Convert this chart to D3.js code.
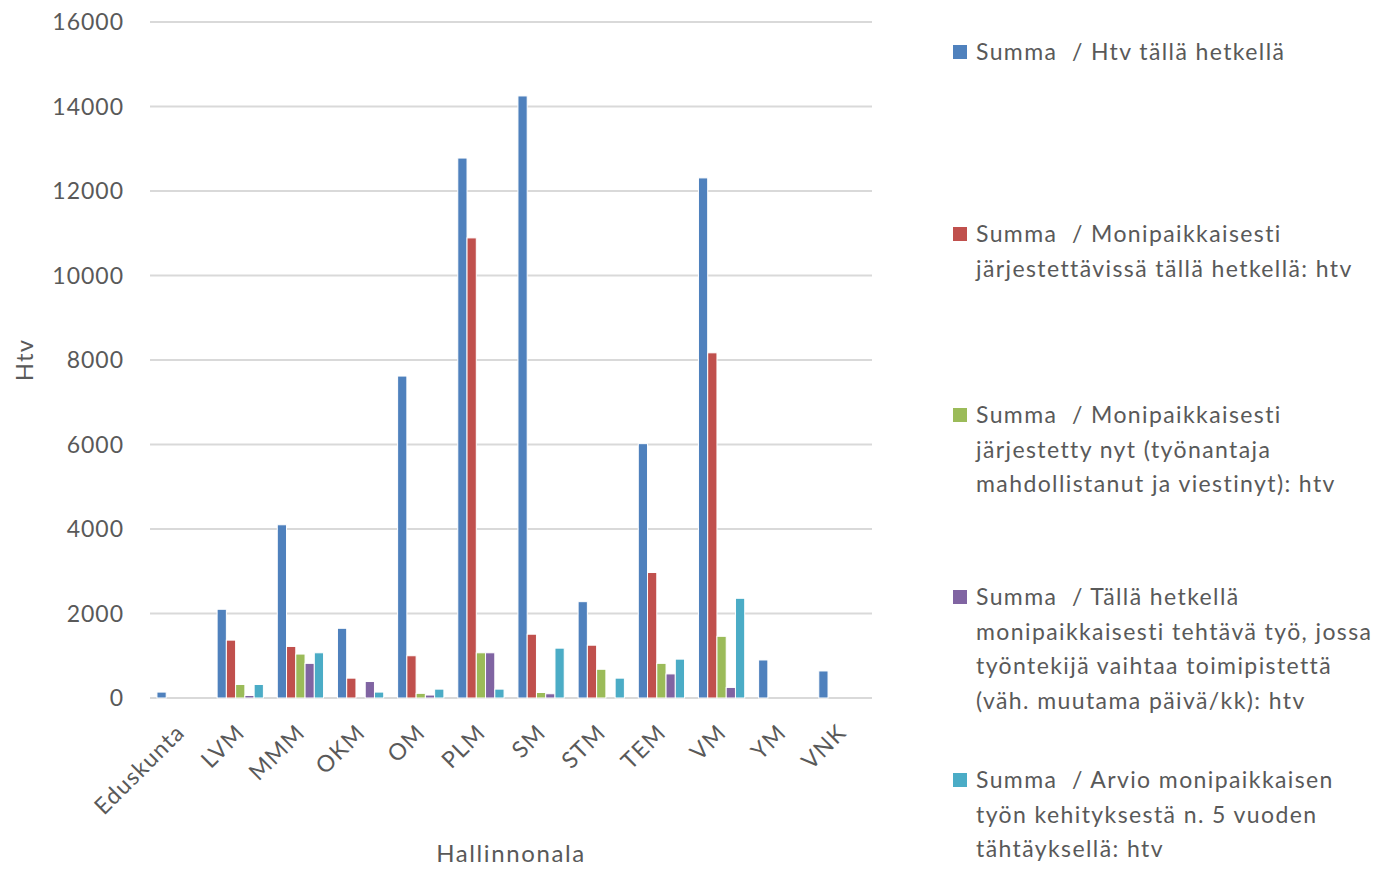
<!DOCTYPE html>
<html>
<head>
<meta charset="utf-8">
<script src="https://cdn.jsdelivr.net/npm/d3@7"></script>
<style>
  body { margin: 0; background: #fff; }
  svg text { font-family: Lato, "Open Sans", sans-serif; fill: #595959; white-space: pre; }
</style>
</head>
<body>
<svg id="chart"></svg>
<script>
var categories = ["Eduskunta", "LVM", "MMM", "OKM", "OM", "PLM", "SM", "STM", "TEM", "VM", "YM", "VNK"]

var htvNyt      = [140, 2100, 4100, 1650, 7620, 12780, 14250, 2280, 6020, 12310, 900, 640]
var jarjestett  = [0, 1370, 1220, 470, 1000, 10890, 1510, 1250, 2970, 8170, 0, 0]
var jarjestetty = [0, 320, 1040, 0, 110, 1070, 130, 680, 820, 1460, 0, 0]
var vaihtaa     = [0, 60, 820, 390, 70, 1070, 100, 0, 570, 250, 0, 0]
var arvio       = [0, 320, 1070, 140, 210, 210, 1180, 470, 920, 2360, 0, 0]

var seriesNames = [
  ["Summa  / Htv tällä hetkellä"],
  ["Summa  / Monipaikkaisesti", "järjestettävissä tällä hetkellä: htv"],
  ["Summa  / Monipaikkaisesti", "järjestetty nyt (työnantaja", "mahdollistanut ja viestinyt): htv"],
  ["Summa  / Tällä hetkellä", "monipaikkaisesti tehtävä työ, jossa", "työntekijä vaihtaa toimipistettä", "(väh. muutama päivä/kk): htv"],
  ["Summa  / Arvio monipaikkaisen", "työn kehityksestä n. 5 vuoden", "tähtäyksellä: htv"]
]
var seriesValues = [htvNyt, jarjestett, jarjestetty, vaihtaa, arvio]
var colors = ["#4f81bd", "#c0504d", "#9bbb59", "#8064a2", "#4bacc6"]
var yTicks = [0, 2000, 4000, 6000, 8000, 10000, 12000, 14000, 16000]

var screen = {width: 1380, height: 869}
var plot = {left: 150, right: 872, top: 22, bottom: 698}

var svg = d3.select("#chart")
    .attr("width", screen.width)
    .attr("height", screen.height)

var xScale = d3.scaleBand()
    .domain(categories)
    .range([plot.left, plot.right])
    .paddingInner(0)
    .paddingOuter(0)

var inner = d3.scaleBand()
    .domain(d3.range(seriesValues.length))
    .range([0, xScale.bandwidth()])
    .paddingOuter(0.75)
    .paddingInner(0)

var yScale = d3.scaleLinear()
    .domain([0, 16000])
    .range([plot.bottom, plot.top])

// gridlines
svg.append("g")
    .selectAll("line")
    .data(yTicks)
    .enter()
    .append("line")
    .attr("x1", plot.left)
    .attr("x2", plot.right)
    .attr("y1", function(d){return yScale(d)})
    .attr("y2", function(d){return yScale(d)})
    .attr("stroke", "#d9d9d9")
    .attr("stroke-width", 2)

// y tick labels
svg.append("g")
    .selectAll("text")
    .data(yTicks)
    .enter()
    .append("text")
    .text(function(d){return d})
    .attr("x", 124)
    .attr("y", function(d){return yScale(d)})
    .attr("dy", "0.35em")
    .attr("text-anchor", "end")
    .style("font-size", "23px")
    .style("letter-spacing", "1px")

// bars
var groups = svg.append("g")
    .selectAll("g")
    .data(seriesValues)
    .enter()
    .append("g")
    .attr("fill", function(d, i){return colors[i]})

groups.each(function(values, si) {
    var pts = values.map(function(v, ci){return {cat: categories[ci], v: v}})
        .filter(function(p){return p.v > 0})
    d3.select(this).selectAll("rect")
        .data(pts)
        .enter()
        .append("rect")
        .attr("x", function(p){return xScale(p.cat) + inner(si)})
        .attr("width", inner.bandwidth())
        .attr("y", function(p){return yScale(p.v)})
        .attr("height", function(p){return yScale(0) - yScale(p.v)})
        .attr("stroke", "#fff")
        .attr("stroke-width", 1)
})

// category labels
svg.append("g")
    .selectAll("text")
    .data(categories)
    .enter()
    .append("text")
    .text(function(d){return d})
    .attr("text-anchor", "end")
    .attr("transform", function(d){
        var x = xScale(d) + xScale.bandwidth() / 2 + 6
        return "translate(" + x + ",734) rotate(-45)"
    })
    .style("font-size", "23px")
    .style("letter-spacing", "1.2px")

// axis titles
svg.append("text")
    .text("Hallinnonala")
    .attr("x", 511)
    .attr("y", 862)
    .attr("text-anchor", "middle")
    .style("font-size", "24px")
    .style("letter-spacing", "1.6px")

svg.append("text")
    .text("Htv")
    .attr("text-anchor", "middle")
    .attr("transform", "translate(33,360) rotate(-90)")
    .style("font-size", "24px")
    .style("letter-spacing", "1.2px")

// legend
var legendTop = [52, 234, 415, 597, 780]
var legend = svg.append("g")
    .selectAll("g")
    .data(seriesNames)
    .enter()
    .append("g")
    .attr("transform", function(d, i){return "translate(953," + legendTop[i] + ")"})

legend.append("rect")
    .attr("x", 0)
    .attr("y", -7)
    .attr("width", 14)
    .attr("height", 14)
    .attr("fill", function(d, i){return colors[i]})

legend.each(function(lines) {
    d3.select(this).selectAll("text")
        .data(lines)
        .enter()
        .append("text")
        .text(function(t){return t})
        .attr("x", 23)
        .attr("y", function(t, j){return j * 34.5})
        .attr("dy", "0.35em")
        .style("font-size", "23px")
        .style("letter-spacing", "1.4px")
})
</script>
</body>
</html>
